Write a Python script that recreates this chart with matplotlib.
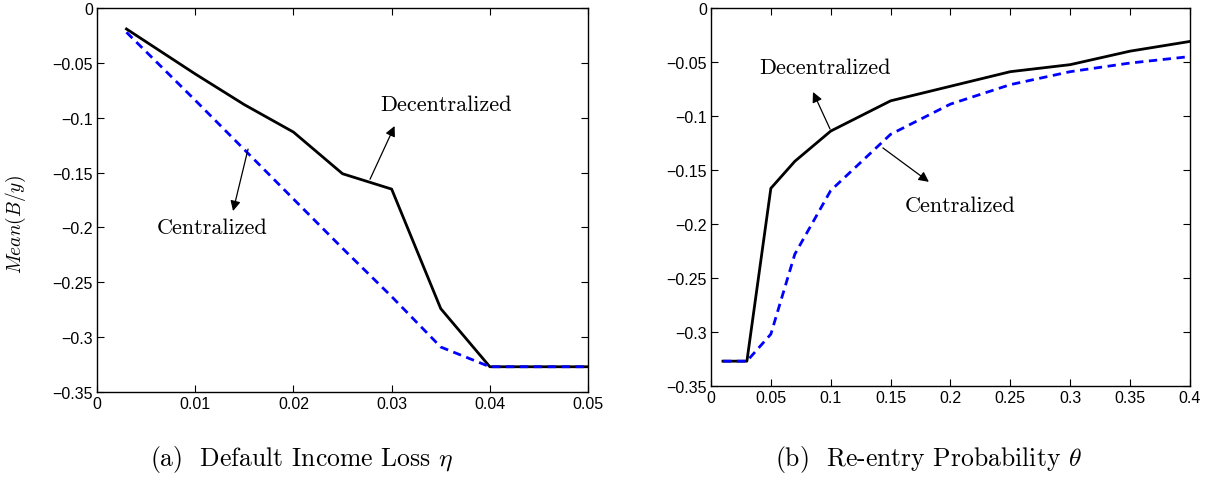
# Mean debt-to-output under decentralized vs centralized borrowing

import numpy as np
import matplotlib.pyplot as plt

plt.rcParams['mathtext.fontset'] = 'cm'
plt.rcParams['font.family'] = ['Liberation Sans', 'DejaVu Sans']

# panel (a): default income loss eta
eta = [0.003, 0.01, 0.015, 0.02, 0.025, 0.03, 0.035, 0.04, 0.045, 0.05]
dec_eta = [-0.019, -0.060, -0.088, -0.113, -0.151, -0.165, -0.274, -0.327, -0.327, -0.327]
cen_eta = [-0.022, -0.084, -0.129, -0.174, -0.219, -0.263, -0.309, -0.327, -0.327, -0.327]

# panel (b): re-entry probability theta
theta = [0.01, 0.03, 0.05, 0.07, 0.1, 0.15, 0.2, 0.25, 0.3, 0.35, 0.4]
dec_theta = [-0.327, -0.327, -0.167, -0.142, -0.114, -0.086, -0.0725, -0.059, -0.0525, -0.040, -0.031]
cen_theta = [-0.327, -0.327, -0.302, -0.228, -0.169, -0.117, -0.089, -0.071, -0.059, -0.051, -0.045]

yticks = [0, -0.05, -0.1, -0.15, -0.2, -0.25, -0.3, -0.35]
ylabels = ['0', '\u22120.05', '\u22120.1', '\u22120.15', '\u22120.2', '\u22120.25', '\u22120.3', '\u22120.35']
xticks_a = [0, 0.01, 0.02, 0.03, 0.04, 0.05]
xlabels_a = ['0', '0.01', '0.02', '0.03', '0.04', '0.05']
xticks_b = [0, 0.05, 0.1, 0.15, 0.2, 0.25, 0.3, 0.35, 0.4]
xlabels_b = ['0', '0.05', '0.1', '0.15', '0.2', '0.25', '0.3', '0.35', '0.4']

fig = plt.figure(figsize=(12.11, 4.81), dpi=100)
ax1 = fig.add_axes([0.0801, 0.183, 0.4055, 0.798])
ax2 = fig.add_axes([0.5871, 0.1954, 0.3955, 0.786])

def style(ax, xt, xl, xmax):
    ax.set_xlim(0, xmax)
    ax.set_ylim(-0.35, 0)
    ax.set_xticks(xt)
    ax.set_xticklabels(xl)
    ax.set_yticks(yticks)
    ax.set_yticklabels(ylabels)
    ax.tick_params(direction='in', top=True, right=True, length=5, labelsize=11.5, width=0.8, pad=3)
    for s in ax.spines.values():
        s.set_linewidth(1.0)

ax1.plot(eta, dec_eta, color='black', lw=2.0)
ax1.plot(eta, cen_eta, color='#0000ff', lw=2.0, ls=(0, (3, 2.0)))
style(ax1, xticks_a, xlabels_a, 0.05)
ax1.set_ylabel('$Mean(B/y)$', fontsize=14)
ax1.yaxis.set_label_coords(-0.14, 0.44)

ax2.plot(theta, dec_theta, color='black', lw=2.0)
ax2.plot(theta, cen_theta, color='#0000ff', lw=2.0, ls=(0, (3, 2.0)))
style(ax2, xticks_b, xlabels_b, 0.4)

arr = dict(arrowstyle='-|>', color='black', lw=0.9, mutation_scale=15, shrinkA=0, shrinkB=0)
tfont = dict(family='cmr10', size=16)
cfont = dict(family='cmr10', size=18.5)

ax1.annotate('', xy=(0.0303, -0.1075), xytext=(0.0278, -0.156), arrowprops=arr)
ax1.text(0.0355, -0.0875, 'Decentralized', ha='center', va='center', **tfont)
ax1.annotate('', xy=(0.01385, -0.185), xytext=(0.01538, -0.1285), arrowprops=arr)
ax1.text(0.0117, -0.1996, 'Centralized', ha='center', va='center', **tfont)

ax2.annotate('', xy=(0.0852, -0.0778), xytext=(0.0994, -0.112), arrowprops=arr)
ax2.text(0.0952, -0.0546, 'Decentralized', ha='center', va='center', **tfont)
ax2.annotate('', xy=(0.182, -0.161), xytext=(0.1436, -0.1296), arrowprops=arr)
ax2.text(0.208, -0.183, 'Centralized', ha='center', va='center', **tfont)

fig.text(0.249, 0.044, r'(a)  Default Income Loss $\eta$', ha='center', va='center', **cfont)
fig.text(0.767, 0.044, r'(b)  Re-entry Probability $\theta$', ha='center', va='center', **cfont)

fig.savefig('out.png', dpi=100)
